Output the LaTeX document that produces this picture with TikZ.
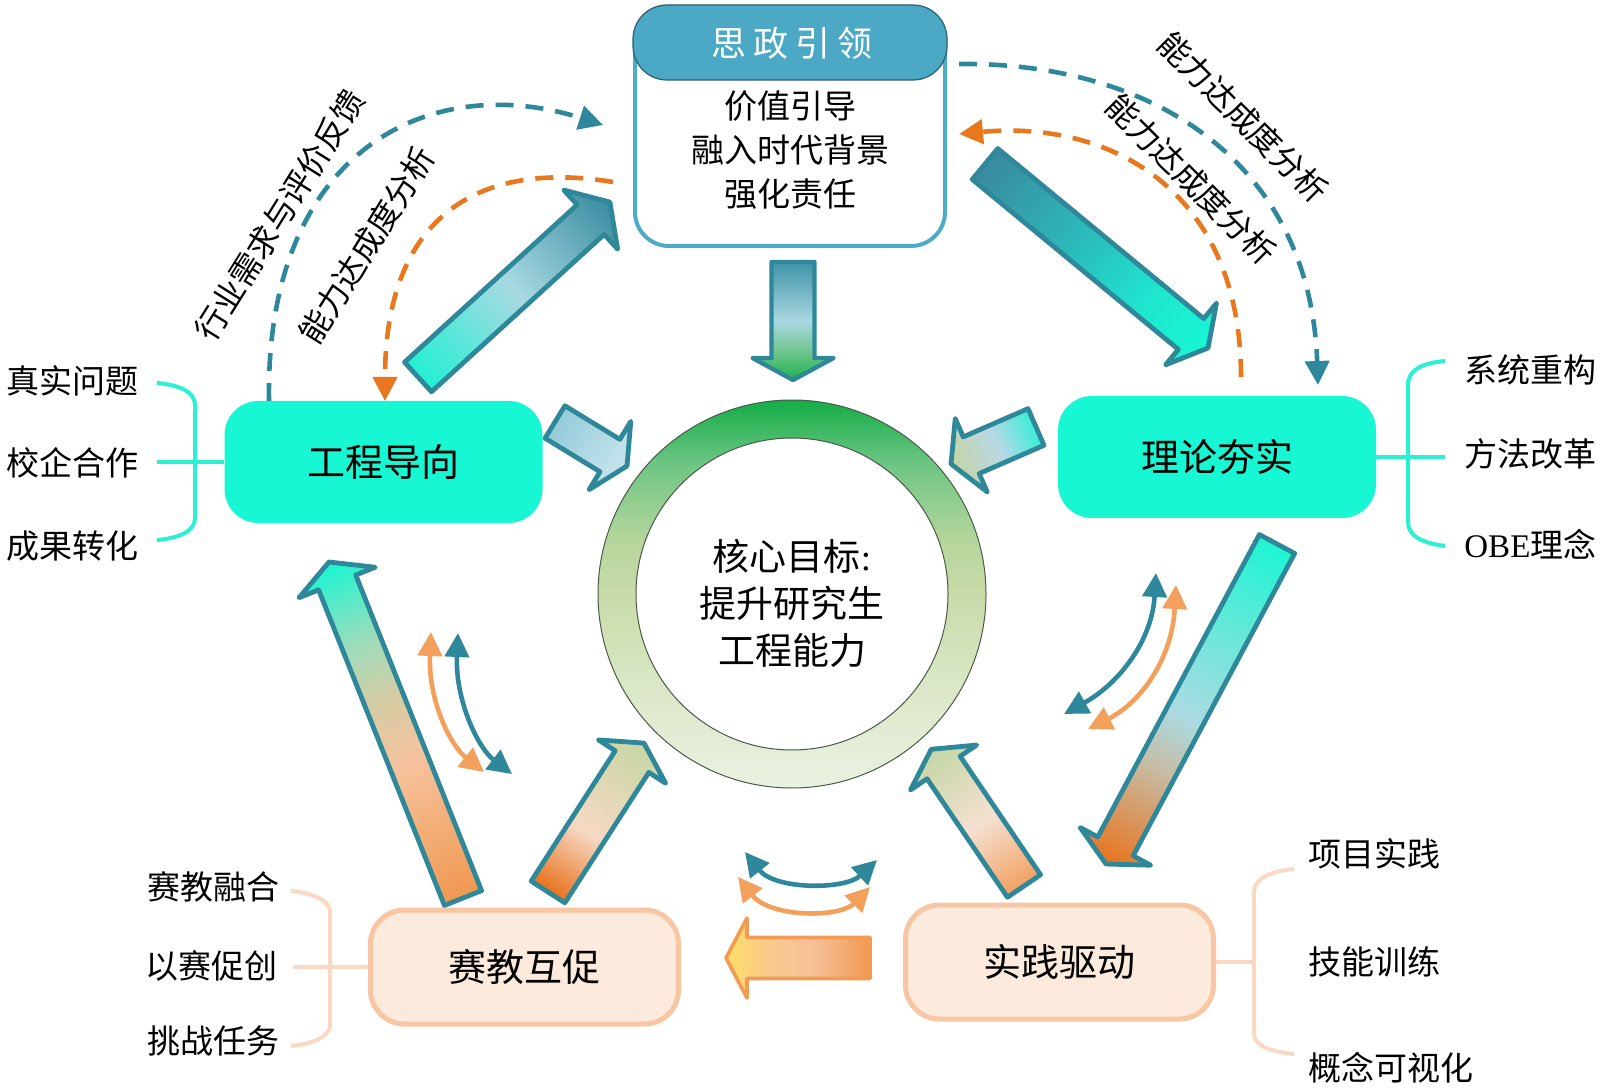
\documentclass[tikz,border=0pt]{standalone}
\usepackage{fontspec}
\setmainfont{Liberation Serif}
\newfontfamily\cjk{Noto Sans CJK SC}
\usetikzlibrary{arrows.meta,calc}

\definecolor{cAqua}{HTML}{18F7D3}
\definecolor{cAquaBr}{HTML}{2CF0D2}
\definecolor{cPeachF}{HTML}{FCEADD}
\definecolor{cPeachD}{HTML}{F8C6A3}
\definecolor{cPeachBr}{HTML}{FAD8C2}
\definecolor{cBlue}{HTML}{2E879A}
\definecolor{cOrange}{HTML}{E8771E}
\definecolor{cOrangeL}{HTML}{F3A05C}
\definecolor{cBoxBd}{HTML}{4DABC8}
\definecolor{cHead}{HTML}{4BA9C6}
\definecolor{cHeadEdge}{HTML}{2C5F6C}
\definecolor{cEdge}{HTML}{2F8899}
\definecolor{cEdgeO}{HTML}{F29B55}
\definecolor{cRingEdge}{HTML}{4A5A48}

\definecolor{aA}{HTML}{22F0D3}\definecolor{aB}{HTML}{A8D9E2}\definecolor{aC}{HTML}{3A8CA1}
\definecolor{bA}{HTML}{3A8A9E}\definecolor{bB}{HTML}{2CB8B9}\definecolor{bC}{HTML}{1FE6CF}\definecolor{bD}{HTML}{17F7D4}
\definecolor{cA}{HTML}{1CF5D3}\definecolor{cB}{HTML}{6EE6DA}\definecolor{cC}{HTML}{ABDAE2}\definecolor{cD}{HTML}{C6BCA4}\definecolor{cE}{HTML}{E9731C}
\definecolor{eA}{HTML}{F09850}\definecolor{eB}{HTML}{F6C29C}\definecolor{eC}{HTML}{D2CDA5}\definecolor{eD}{HTML}{9EDCBA}\definecolor{eE}{HTML}{18F6D3}
\definecolor{fA}{HTML}{E8711B}\definecolor{fB}{HTML}{F6D8C3}\definecolor{fC}{HTML}{C6D7A3}
\definecolor{gA}{HTML}{F3A061}\definecolor{gB}{HTML}{F5E0D1}\definecolor{gC}{HTML}{C3D6A5}
\definecolor{hA}{HTML}{93CAD9}\definecolor{hB}{HTML}{C9E6EE}
\definecolor{iA}{HTML}{38EDD7}\definecolor{iB}{HTML}{B8D8E6}\definecolor{iC}{HTML}{C5D3A0}
\definecolor{jA}{HTML}{F29A50}\definecolor{jB}{HTML}{F6C09A}\definecolor{jC}{HTML}{F9C98E}\definecolor{jD}{HTML}{FFDF66}
\definecolor{kA}{HTML}{3F93A8}\definecolor{kB}{HTML}{AAD7E1}\definecolor{kC}{HTML}{6FC68F}\definecolor{kD}{HTML}{1EB04B}
\definecolor{rA}{HTML}{EAF2E2}\definecolor{rB}{HTML}{DCE8C9}\definecolor{rC}{HTML}{C9DBA9}\definecolor{rD}{HTML}{B5D59C}\definecolor{rE}{HTML}{6CC582}\definecolor{rF}{HTML}{13AD48}

\pgfdeclarehorizontalshading{shAone}{100bp}{color(0bp)=(aA); color(25bp)=(aA); color(50bp)=(aB); color(75bp)=(aC); color(100bp)=(aC)}
\pgfdeclarehorizontalshading{shAtwo}{100bp}{color(0bp)=(bA); color(25bp)=(bA); color(45bp)=(bB); color(62bp)=(bC); color(75bp)=(bD); color(100bp)=(bD)}
\pgfdeclarehorizontalshading{shAthree}{100bp}{color(0bp)=(cA); color(25bp)=(cA); color(40bp)=(cB); color(52bp)=(cC); color(60bp)=(cD); color(75bp)=(cE); color(100bp)=(cE)}
\pgfdeclarehorizontalshading{shAfive}{100bp}{color(0bp)=(eA); color(25bp)=(eA); color(45bp)=(eB); color(55bp)=(eC); color(63bp)=(eD); color(75bp)=(eE); color(100bp)=(eE)}
\pgfdeclarehorizontalshading{shAsix}{100bp}{color(0bp)=(fA); color(25bp)=(fA); color(45bp)=(fB); color(75bp)=(fC); color(100bp)=(fC)}
\pgfdeclarehorizontalshading{shAseven}{100bp}{color(0bp)=(gA); color(25bp)=(gA); color(48bp)=(gB); color(75bp)=(gC); color(100bp)=(gC)}
\pgfdeclarehorizontalshading{shAeight}{100bp}{color(0bp)=(hA); color(25bp)=(hA); color(75bp)=(hB); color(100bp)=(hB)}
\pgfdeclarehorizontalshading{shAnine}{100bp}{color(0bp)=(iA); color(25bp)=(iA); color(48bp)=(iB); color(75bp)=(iC); color(100bp)=(iC)}
\pgfdeclarehorizontalshading{shAten}{100bp}{color(0bp)=(jA); color(25bp)=(jA); color(45bp)=(jB); color(60bp)=(jC); color(75bp)=(jD); color(100bp)=(jD)}
\pgfdeclarehorizontalshading{shDown}{100bp}{color(0bp)=(kA); color(25bp)=(kA); color(50bp)=(kB); color(63bp)=(kC); color(75bp)=(kD); color(100bp)=(kD)}
\pgfdeclareverticalshading{shRing}{100bp}{color(0bp)=(rA); color(25bp)=(rA); color(37bp)=(rB); color(50bp)=(rC); color(57bp)=(rD); color(67bp)=(rE); color(75bp)=(rF); color(100bp)=(rF)}

\makeatletter
% #1 tail, #2 tip, #3 shaft half width (pt), #4 head half width (pt), #5 head length (pt), #6 shading, #7 edge colour, #8 edge width
\newcommand\blockarrow[8]{%
  \path let \p1=(#1), \p2=(#2) in \pgfextra{%
    \pgfmathsetmacro\ba@ang{atan2((\y2)-(\y1),(\x2)-(\x1))}%
    \pgfmathsetmacro\ba@len{veclen((\x2)-(\x1),(\y2)-(\y1))}%
    \xdef\BAang{\ba@ang}\xdef\BAlen{\ba@len}%
    \xdef\BAx{\x1}\xdef\BAy{\y1}};
  \begin{scope}[transform canvas={shift={(\BAx,\BAy)},rotate=\BAang}]
    \shade[shading=#6, draw=#7, line width=#8, line join=round]
      (0pt,{-#3pt}) -- ({\BAlen pt-#5pt},{-#3pt}) -- ({\BAlen pt-#5pt},{-#4pt})
      -- ({\BAlen pt},0pt) -- ({\BAlen pt-#5pt},{#4pt}) -- ({\BAlen pt-#5pt},{#3pt})
      -- (0pt,{#3pt}) -- cycle;
  \end{scope}
}
\makeatother

\begin{document}
\begin{tikzpicture}[x=0.5pt,y=-0.5pt,
  boxtxt/.style={font=\cjk\fontsize{19}{23}\selectfont},
  itemtxt/.style={font=\cjk\fontsize{16.5}{20}\selectfont, anchor=west, inner sep=0pt},
  rottxt/.style={font=\cjk\fontsize{16}{20}\selectfont, inner sep=0pt},
  aquabox/.style={rectangle, rounded corners=17pt, fill=cAqua, minimum width=159pt, minimum height=61pt, inner sep=0pt, boxtxt},
  peachbox/.style={rectangle, rounded corners=17pt, fill=cPeachF, draw=cPeachD, line width=2.5pt, minimum width=154pt, minimum height=57pt, inner sep=0pt, boxtxt},
  aquabr/.style={draw=cAquaBr, line width=2pt},
  peachbr/.style={draw=cPeachBr, line width=2pt},
  dashB/.style={draw=cBlue, line width=2.3pt, dash pattern=on 9pt off 6pt, -{Triangle[length=12pt,width=12pt]}},
  dashO/.style={draw=cOrange, line width=2.3pt, dash pattern=on 9pt off 6pt, -{Triangle[length=12pt,width=12pt]}},
  dblB/.style={draw=cBlue, line width=2.3pt, {Triangle[length=12pt,width=12pt]}-{Triangle[length=12pt,width=12pt]}},
  dblO/.style={draw=cOrangeL, line width=2.3pt, {Triangle[length=12pt,width=12pt]}-{Triangle[length=12pt,width=12pt]}}
]
\useasboundingbox[fill=white] (0,0) rectangle (1600,1090);

% ---------- top box ----------
\node[draw=cBoxBd, line width=2pt, rounded corners=17pt, fill=white, minimum width=155pt, minimum height=119.5pt, inner sep=0pt] (sz) at (790,126.5) {};
\node[fill=cHead, draw=cHeadEdge, line width=0.6pt, rounded corners=17pt, minimum width=157pt, minimum height=37.5pt, inner sep=0pt] (szh) at (790,42.5) {};
\node[font=\cjk\fontsize{17.5}{20}\selectfont, text=white] (szht) at (792,43) {思\hspace{3.5pt}政\hspace{3.5pt}引\hspace{3.5pt}领};
\node[font=\cjk\fontsize{16.5}{22}\selectfont, align=center] (szb) at (790,150) {价值引导\\融入时代背景\\强化责任};

% ---------- boxes ----------
\node[aquabox] (gc) at (383.5,462) {工程导向};
\node[aquabox] (ll) at (1217,457) {理论夯实};
\node[peachbox] (sj) at (524.5,967) {赛教互促};
\node[peachbox] (sd) at (1059.5,962) {实践驱动};

% ---------- brackets and items ----------
\draw[aquabr] (157,383) .. controls (180,385) and (195,392) .. (195,405) -- (195,518) .. controls (195,531) and (180,538) .. (157,540);
\coordinate (gcL) at (157,462);
\draw[aquabr] (gcL) -- (gc.west);
\node[itemtxt] (i1) at (6,381) {真实问题};
\node[itemtxt] (i2) at (6,463) {校企合作};
\node[itemtxt] (i3) at (6,546) {成果转化};

\draw[aquabr] (1445,361) .. controls (1422,363) and (1408,370) .. (1408,385) -- (1408,522) .. controls (1408,536) and (1422,543) .. (1445,546);
\coordinate (llR) at (1445,457);
\draw[aquabr] (ll.east) -- (llR);
\node[itemtxt] (i4) at (1464,370) {系统重构};
\node[itemtxt] (i5) at (1464,454) {方法改革};
\node[itemtxt] (i6) at (1464,544) {{\rmfamily OBE}理念};

\draw[peachbr] (291,891) .. controls (312,893) and (330,900) .. (330,912) -- (330,1025) .. controls (330,1037) and (312,1044) .. (291,1046);
\coordinate (sjL) at (293,967);
\draw[peachbr] (sjL) -- (sj.west);
\node[itemtxt] (i7) at (147,887) {赛教融合};
\node[itemtxt] (i8) at (145,966) {以赛促创};
\node[itemtxt] (i9) at (147,1041) {挑战任务};

\draw[peachbr] (1294,869) .. controls (1272,871) and (1254,878) .. (1254,892) -- (1254,1034) .. controls (1254,1046) and (1272,1052) .. (1294,1054);
\coordinate (sdR) at (1254,962);
\draw[peachbr] (sd.east) -- (sdR);
\node[itemtxt] (i10) at (1308,854) {项目实践};
\node[itemtxt] (i11) at (1308,962) {技能训练};
\node[itemtxt] (i12) at (1308,1068) {概念可视化};

% ---------- dashed feedback arcs ----------
\coordinate (d1s) at (269,401);  \coordinate (d1e) at (603,125);
\coordinate (d2s) at (613,182);  \coordinate (d2e) at (385,401);
\coordinate (d3s) at (959,64);   \coordinate (d3e) at (1318,385);
\coordinate (d4s) at (1241,377); \coordinate (d4e) at (959,134);
\draw[dashB] (d1s) .. controls (265,150) and (430,70) .. (d1e);
\draw[dashO] (d2s) .. controls (480,160) and (385,215) .. (d2e);
\draw[dashB] (d3s) .. controls (1150,62) and (1310,160) .. (d3e);
\draw[dashO] (d4s) .. controls (1241,190) and (1110,120) .. (d4e);

\node[rottxt, rotate=58] (lb1) at (280,215) {行业需求与评价反馈};
\node[rottxt, rotate=58] (lb2) at (367,245) {能力达成度分析};
\node[rottxt, rotate=-45] (lb3) at (1243,117) {能力达成度分析};
\node[rottxt, rotate=-45] (lb4) at (1191,179) {能力达成度分析};

% ---------- ring ----------
\coordinate (ringc) at (792,594);
\shade[shading=shRing, even odd rule, draw=cRingEdge, line width=0.5pt]
  (ringc) circle[radius=97pt] (ringc) circle[radius=78pt];
\node[font=\cjk\fontsize{18.5}{23.5}\selectfont, align=center] (core) at (792,603) {核心目标{\rmfamily :}\\提升研究生\\工程能力};

% ---------- block arrows ----------
\coordinate (dnT) at (793,262);  \coordinate (dnH) at (793,380);
\coordinate (a1T) at (418,377);  \coordinate (a1H) at (610,202);
\coordinate (a2T) at (985,164);  \coordinate (a2H) at (1208,348);
\coordinate (a3T) at (1277,544); \coordinate (a3H) at (1106,864);
\coordinate (a5T) at (463,898);  \coordinate (a5H) at (329,562);
\coordinate (a6T) at (548,892);  \coordinate (a6H) at (644,743);
\coordinate (a7T) at (1024,886); \coordinate (a7H) at (931,749);
\coordinate (a8T) at (555,422);  \coordinate (a8H) at (627,466);
\coordinate (a9T) at (1036,427); \coordinate (a9H) at (951,464);
\coordinate (a10T) at (870,958); \coordinate (a10H) at (726,958);

\blockarrow{dnT}{dnH}{10.75}{20.25}{11}{shDown}{cEdge}{2.2pt}
\blockarrow{a1T}{a1H}{10}{20}{13}{shAone}{cEdge}{2.4pt}
\blockarrow{a2T}{a2H}{10}{20}{11}{shAtwo}{cEdge}{2.4pt}
\blockarrow{a3T}{a3H}{10}{20}{10}{shAthree}{cEdge}{2.4pt}
\blockarrow{a5T}{a5H}{10}{20.5}{11}{shAfive}{cEdge}{2.4pt}
\blockarrow{a6T}{a6H}{10}{20}{11}{shAsix}{cEdge}{2.4pt}
\blockarrow{a7T}{a7H}{10}{20}{11}{shAseven}{cEdge}{2.4pt}
\blockarrow{a8T}{a8H}{9.5}{20}{10}{shAeight}{cEdge}{2.4pt}
\blockarrow{a9T}{a9H}{10}{20}{11}{shAnine}{cEdge}{2.4pt}
\blockarrow{a10T}{a10H}{10.25}{20}{10.5}{shAten}{cEdgeO}{1.8pt}

% ---------- double-headed curved arrows ----------
\coordinate (p1a) at (431,632);  \coordinate (p1b) at (484,772);
\coordinate (p2a) at (458,633);  \coordinate (p2b) at (512,774);
\draw[dblO] (p1a) .. controls (428,700) and (450,745) .. (p1b);
\draw[dblB] (p2a) .. controls (455,700) and (478,748) .. (p2b);

\coordinate (q1a) at (1156,573); \coordinate (q1b) at (1064,714);
\coordinate (q2a) at (1176,585); \coordinate (q2b) at (1088,729);
\draw[dblB] (q1a) .. controls (1152,640) and (1120,683) .. (q1b);
\draw[dblO] (q2a) .. controls (1172,660) and (1140,703) .. (q2b);

\coordinate (r1a) at (745,852);  \coordinate (r1b) at (877,860);
\coordinate (r2a) at (738,877);  \coordinate (r2b) at (870,887);
\draw[dblB] (r1a) .. controls (775,890) and (845,890) .. (r1b);
\draw[dblO] (r2a) .. controls (770,918) and (840,918) .. (r2b);
\end{tikzpicture}
\end{document}
